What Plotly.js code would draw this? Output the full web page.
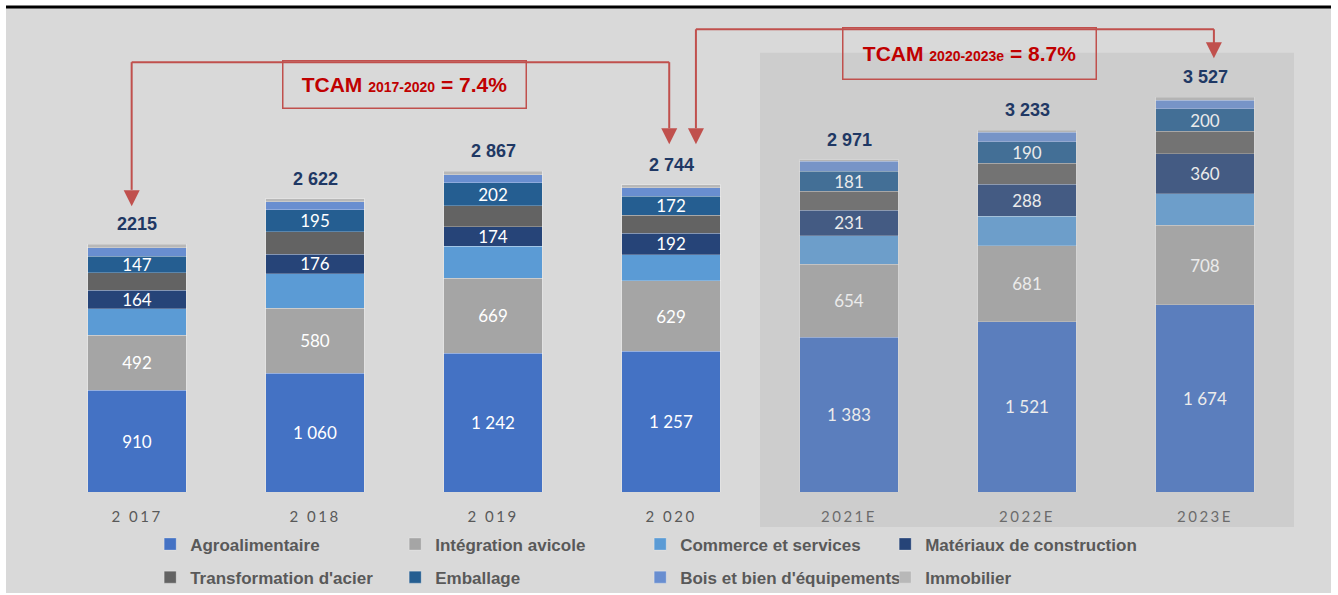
<!DOCTYPE html>
<html>
<head>
<meta charset="utf-8">
<script src="https://cdn.plot.ly/plotly-3.0.1.min.js"></script>
<style>
  body { margin: 0; background: #ffffff; }
  #myGraph { width: 1338px; height: 595px; }
  .xtick text { letter-spacing: 2.5px; }
</style>
</head>
<body>
<div id="myGraph"></div>
<script>
let myGraph = document.getElementById('myGraph');

// catégories et valeurs (empilées de bas en haut)
const years = ['2 017', '2 018', '2 019', '2 020', '2021E', '2022E', '2023E'];
const agro = [910, 1060, 1242, 1257, 1383, 1521, 1674];
const avicole = [492, 580, 669, 629, 654, 681, 708];
const commerce = [235, 310, 287, 235, 252, 262, 282];
const materiaux = [164, 176, 174, 192, 231, 288, 360];
const acier = [160, 200, 188, 160, 167, 186, 199];
const emballage = [147, 195, 202, 172, 181, 190, 200];
const bois = [75, 71, 75, 75, 88, 88, 80];
const immobilier = [32, 30, 30, 24, 15, 17, 24];
const totalLabels = ['2215', '2 622', '2 867', '2 744', '2 971', '3 233', '3 527'];

// une légende par colonne (2 lignes)
const series = [
    {name: 'Agroalimentaire', y: agro, color: '#4472c4', label: true, legend: 'legend'},
    {name: 'Intégration avicole', y: avicole, color: '#a5a5a5', label: true, legend: 'legend2'},
    {name: 'Commerce et services', y: commerce, color: '#5b9bd5', label: false, legend: 'legend3'},
    {name: 'Matériaux de construction', y: materiaux, color: '#264478', label: true, legend: 'legend4'},
    {name: "Transformation d'acier", y: acier, color: '#636363', label: false, legend: 'legend'},
    {name: 'Emballage', y: emballage, color: '#255e91', label: true, legend: 'legend2'},
    {name: "Bois et bien d'équipements", y: bois, color: '#698ed0', label: false, legend: 'legend3'},
    {name: 'Immobilier', y: immobilier, color: '#b8b8b8', label: false, legend: 'legend4'}
];

let data = series.map((s, i) => ({
    type: 'bar',
    name: s.name,
    x: years,
    y: s.y,
    legend: s.legend,
    legendgroup: 'g' + i,
    marker: {color: s.color, line: {color: 'rgba(255,255,255,0.25)', width: 1}},
    texttemplate: s.label ? '%{y:,}' : '',
    textposition: 'inside',
    insidetextanchor: 'middle',
    constraintext: 'none',
    textangle: 0,
    insidetextfont: {family: 'Lato', size: 17, color: '#ffffff'},
    hoverinfo: 'skip'
}));

// totaux au-dessus des barres
let annotations = years.map((yr, i) => ({
    x: yr,
    y: series.reduce((acc, s) => acc + s.y[i], 0),
    text: totalLabels[i],
    showarrow: false,
    yanchor: 'middle',
    yshift: 20,
    font: {family: 'Liberation Sans', size: 18, weight: 'bold', color: '#1f3864'}
}));

const red = '#c0504d';

// flèches
const arrowTips = [[-0.03, 2554], [2.99, 3108], [3.14, 3108], [6.05, 3876]];
arrowTips.forEach(t => {
    annotations.push({
        x: t[0], y: t[1], xref: 'x', yref: 'y',
        text: ' ', showarrow: true, ax: 0, ay: -18,
        arrowhead: 2, arrowsize: 1.6, arrowwidth: 2, arrowcolor: red, standoff: 0
    });
});

// encadrés TCAM
annotations.push({
    x: 1.503, y: 3642, xref: 'x', yref: 'y', showarrow: false,
    text: 'TCAM <span style="font-size:14px">2017-2020</span> = 7.4%',
    font: {family: 'Liberation Sans', size: 21, weight: 'bold', color: '#c00000'},
    bordercolor: red, borderwidth: 1.5, borderpad: 1, width: 240, height: 44
});
annotations.push({
    x: 4.677, y: 3916, xref: 'x', yref: 'y', showarrow: false,
    text: 'TCAM <span style="font-size:14px">2020-2023e</span> = 8.7%',
    font: {family: 'Liberation Sans', size: 21, weight: 'bold', color: '#c00000'},
    bordercolor: red, borderwidth: 1.5, borderpad: 1, width: 250, height: 48
});

const lineStyle = {color: red, width: 2};
let shapes = [
    // fond gris
    {type: 'rect', xref: 'paper', yref: 'paper', x0: -0.0337, x1: 1.0297, y0: -0.2149, y1: 1.0298,
     fillcolor: '#d9d9d9', line: {width: 0}, layer: 'below'},
    // filet noir en haut
    {type: 'line', xref: 'paper', yref: 'paper', x0: -0.0337, x1: 1.0297, y0: 1.0319, y1: 1.0319,
     line: {color: '#000000', width: 3}, layer: 'above'},
    // zone prévisions
    {type: 'rect', xref: 'paper', yref: 'paper', x0: 4 / 7, x1: 1.0, y0: -0.0745, y1: 0.9347,
     fillcolor: '#aaaaaa', opacity: 0.23, line: {width: 0}, layer: 'above'},
    // connecteurs
    {type: 'line', x0: -0.03, x1: -0.03, y0: 2700, y1: 3841, line: lineStyle, layer: 'above'},
    {type: 'line', x0: -0.03, x1: 2.99, y0: 3841, y1: 3841, line: lineStyle, layer: 'above'},
    {type: 'line', x0: 2.99, x1: 2.99, y0: 3841, y1: 3250, line: lineStyle, layer: 'above'},
    {type: 'line', x0: 3.14, x1: 3.14, y0: 3250, y1: 4135, line: lineStyle, layer: 'above'},
    {type: 'line', x0: 3.14, x1: 6.05, y0: 4135, y1: 4135, line: lineStyle, layer: 'above'},
    {type: 'line', x0: 6.05, x1: 6.05, y0: 4135, y1: 4000, line: lineStyle, layer: 'above'}
];

const legendFont = {family: 'Liberation Sans', size: 17, weight: 'bold', color: '#595959'};
function legendCol(x) {
    return {
        orientation: 'v', x: x, xanchor: 'left', y: -0.1468, yanchor: 'middle',
        traceorder: 'grouped', tracegroupgap: 8,
        bgcolor: 'rgba(0,0,0,0)', font: legendFont
    };
}

let layout = {
    width: 1338,
    height: 595,
    margin: {l: 48, r: 44, t: 22, b: 103, autoexpand: false},
    paper_bgcolor: '#ffffff',
    plot_bgcolor: 'rgba(0,0,0,0)',
    barmode: 'stack',
    bargap: 0.444,
    separators: ', ',
    xaxis: {
        type: 'category',
        range: [-0.5, 6.5],
        showgrid: false,
        zeroline: false,
        showline: false,
        ticks: '',
        ticklabelstandoff: 14,
        tickfont: {family: 'Lato', size: 15, color: '#595959'},
        fixedrange: true
    },
    yaxis: {
        range: [0, 4200],
        showgrid: false,
        zeroline: false,
        showline: false,
        showticklabels: false,
        fixedrange: true
    },
    showlegend: true,
    legend: legendCol(0.082),
    legend2: legendCol(0.082 + 245 / 1246),
    legend3: legendCol(0.082 + 2 * 245 / 1246),
    legend4: legendCol(0.082 + 3 * 245 / 1246),
    annotations: annotations,
    shapes: shapes
};

Plotly.newPlot(myGraph, data, layout, {displayModeBar: false, staticPlot: true});
</script>
</body>
</html>
